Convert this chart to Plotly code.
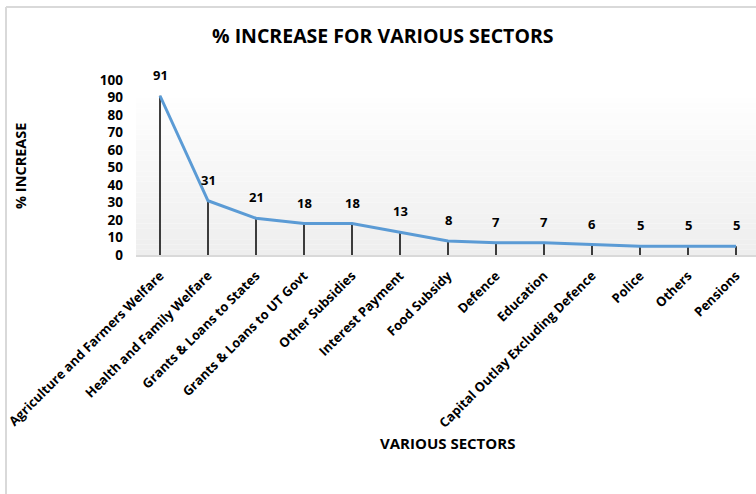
import plotly.graph_objects as go

# Sector-wise percentage increase
sectors = [
    "Agriculture and Farmers Welfare",
    "Health and Family Welfare",
    "Grants & Loans to States",
    "Grants & Loans to UT Govt",
    "Other Subsidies",
    "Interest Payment",
    "Food Subsidy",
    "Defence",
    "Education",
    "Capital Outlay Excluding Defence",
    "Police",
    "Others",
    "Pensions",
]
pct_increase = [91, 31, 21, 18, 18, 13, 8, 7, 7, 6, 5, 5, 5]
y_ticks = [0, 10, 20, 30, 40, 50, 60, 70, 80, 90, 100]

FONT = "Open Sans"
W, H = 756, 494
L, R, T, B = 136, 0, 80, 239
plot_w = W - L - R
plot_h = H - T - B


def px_x(px):
    return (px - L) / plot_w


def px_y(py):
    return (H - B - py) / plot_h


fig = go.Figure()

# drop lines from each point down to the category axis
drop_x, drop_y = [], []
for s, v in zip(sectors, pct_increase):
    drop_x += [s, s, None]
    drop_y += [0, v, None]
fig.add_trace(go.Scatter(
    x=drop_x, y=drop_y, mode="lines",
    line=dict(color="#000000", width=1.5),
    hoverinfo="skip", showlegend=False,
))

# main series
fig.add_trace(go.Scatter(
    x=sectors, y=pct_increase, mode="lines",
    line=dict(color="#5b9bd5", width=3),
    showlegend=False,
))

annotations = []
for s, v in zip(sectors, pct_increase):
    annotations.append(dict(
        x=s, y=v, xref="x", yref="y", text=f"<b>{v}</b>",
        showarrow=False, yshift=21, xanchor="center", yanchor="middle",
        font=dict(family=FONT, size=13, color="#000000"),
    ))

annotations.append(dict(
    x=px_x(383), y=px_y(35), xref="paper", yref="paper",
    xanchor="center", yanchor="middle",
    text="<b>% INCREASE FOR VARIOUS SECTORS</b>", showarrow=False,
    font=dict(family=FONT, size=19.5, color="#000000"),
))
annotations.append(dict(
    x=px_x(20), y=px_y(166), xref="paper", yref="paper",
    xanchor="center", yanchor="middle",
    text="<b>% INCREASE</b>", showarrow=False, textangle=-90,
    font=dict(family=FONT, size=14.5, color="#000000"),
))
annotations.append(dict(
    x=px_x(448), y=px_y(443), xref="paper", yref="paper",
    xanchor="center", yanchor="middle",
    text="<b>VARIOUS SECTORS</b>", showarrow=False,
    font=dict(family=FONT, size=15, color="#000000"),
))

shapes = []
# soft vertical gradient behind the plot area
top_px, bot_px = 98, 255
n_bands = 30
for i in range(n_bands):
    y0 = top_px + (bot_px - top_px) * i / n_bands
    y1 = top_px + (bot_px - top_px) * (i + 1) / n_bands
    t = (i + 0.5) / n_bands
    c = int(round(254 - t * (254 - 238)))
    shapes.append(dict(
        type="rect", xref="paper", yref="paper", layer="below",
        x0=px_x(136), x1=px_x(760), y0=px_y(y1), y1=px_y(y0),
        fillcolor=f"rgb({c},{c},{c})", line=dict(width=0),
    ))
# chart frame
shapes.append(dict(
    type="line", xref="paper", yref="paper",
    x0=px_x(6), x1=px_x(6), y0=px_y(7), y1=px_y(500),
    line=dict(color="#d9d9d9", width=2),
))
shapes.append(dict(
    type="line", xref="paper", yref="paper",
    x0=px_x(6), x1=px_x(760), y0=px_y(7), y1=px_y(7),
    line=dict(color="#d9d9d9", width=2),
))

fig.update_layout(
    width=W, height=H,
    margin=dict(l=L, r=R, t=T, b=B, pad=0),
    paper_bgcolor="#ffffff", plot_bgcolor="rgba(0,0,0,0)",
    showlegend=False,
    annotations=annotations, shapes=shapes,
    xaxis=dict(
        type="category", categoryorder="array", categoryarray=sectors,
        range=[-0.5, (W - L) / 48 - 0.5],
        tickangle=-45, showgrid=False, zeroline=False,
        showline=True, linecolor="#d9d9d9", linewidth=2,
        ticks="", tickfont=dict(family=FONT, size=13, color="#000000"),
        ticklabelstandoff=6, automargin=False,
        tickprefix="<b>", ticksuffix="</b>",
    ),
    yaxis=dict(
        range=[0, 100], tickvals=y_ticks,
        ticktext=[f"<b>{t}</b>" for t in y_ticks],
        showgrid=False, zeroline=False, showline=False, ticks="",
        tickfont=dict(family=FONT, size=13.5, color="#000000"),
        ticklabelstandoff=12, automargin=False,
    ),
)

fig.write_html("out.html")
